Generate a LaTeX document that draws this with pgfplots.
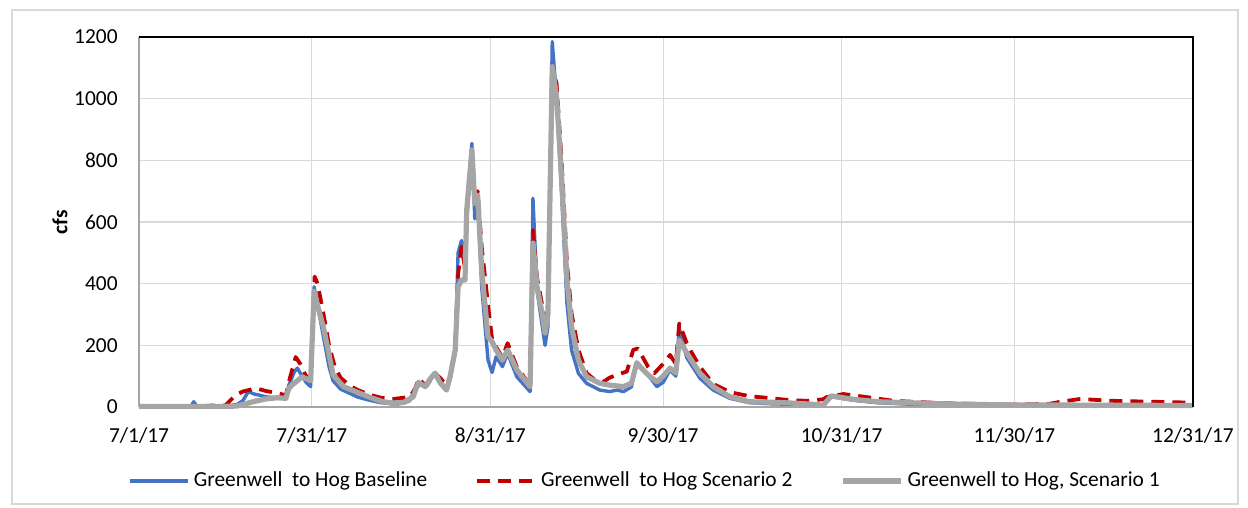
\documentclass[border=0pt]{standalone}
\usepackage{fontspec}
\setmainfont{Carlito}
\usepackage{pgfplots}
\pgfplotsset{compat=1.18}
\definecolor{cblue}{HTML}{4472C4}
\definecolor{cred}{HTML}{C00000}
\definecolor{cgray}{HTML}{A5A5A5}
\definecolor{gridgray}{HTML}{D9D9D9}
\definecolor{axgray}{HTML}{A6A6A6}
\definecolor{framegray}{HTML}{D9D9D9}
\begin{document}
\fontsize{10.7bp}{12.5bp}\selectfont
\begin{tikzpicture}
\path[use as bounding box] (0,0) rectangle (624bp,254bp);
\draw[framegray, line width=0.6bp] (6bp,2bp) rectangle (619bp,249bp);
\begin{axis}[
  scale only axis, width=527bp, height=185bp,
  at={(69.5bp,50.5bp)}, anchor=south west,
  xmin=0, xmax=183, ymin=0, ymax=1200,
  clip=false,
  xtick={0,30,61,91,122,152,183},
  xticklabels={7/1/17,7/31/17,8/31/17,9/30/17,10/31/17,11/30/17,12/31/17},
  ytick={0,200,400,600,800,1000,1200},
  yticklabels={0,200,400,600,800,1000,1200},
  xticklabel style={anchor=north, inner sep=0pt, yshift=-10bp},
  yticklabel style={anchor=east, inner sep=0pt, xshift=-10.5bp},
  major tick length=0pt,
  tick style={draw=none},
  grid=major,
  major grid style={draw=gridgray, line width=0.6bp},
  axis line style={draw=none},
  ylabel={\textbf{cfs}},
  ylabel style={at={(axis description cs:-0.075,0.5)}, anchor=center, rotate=0},
  legend columns=3,
  legend style={at={(axis description cs:-0.0104,-0.2)}, anchor=west, draw=none, fill=none, inner sep=0pt,
    /tikz/every even column/.append style={column sep=22bp}},
  legend image code/.code={\draw[#1,line cap=butt] (0bp,0bp) -- (29bp,0bp);},
  after end axis/.code={
    \draw[axgray, line width=0.8bp] (rel axis cs:0,0) -- (rel axis cs:0,1);
    \draw[axgray, line width=1.3bp] (rel axis cs:0,0) -- (rel axis cs:1,0);
    \draw[black, line width=1bp] (rel axis cs:0,1) -- (rel axis cs:1,1) -- (rel axis cs:1,0);
  },
]
\addplot[cblue, line width=1.7bp, line join=round] coordinates {
(0,2) (9,2) (9.5,17) (10,3) (12,2) (15,3) (17,8) (18,20) (19,50) (20,42) (21,38) (22,33) (24,30) (25.5,28) (26,70) (27,115) (27.5,126) (28,110) (29,80) (29.8,66) (30.4,390) (31,330) (32,230) (33,130) (33.7,85) (35,58) (36.5,45) (38,32) (40,22) (42,14) (44,10) (45,10) (46,13) (47,20) (48,65) (49,72) (50,68) (51,100) (51.5,105) (52.5,80) (53.4,55) (54,90) (54.9,180) (55.4,500) (56,540) (56.6,470) (56.9,640) (57.8,855) (58.3,610) (58.8,680) (59.5,390) (60.6,152) (61.3,112) (62,163) (63.1,131) (64,174) (65.6,98) (67.9,50) (68.4,677) (69.1,380) (70.5,200) (71,260) (71.75,1185) (72.5,1000) (73.4,682) (74.3,337) (75.1,185) (76.3,109) (77.7,77) (80,55) (81.7,50) (83,55) (84.1,50) (85.5,65) (86.4,146) (88.4,104) (89.9,66) (91,80) (92.2,120) (93.2,100) (93.8,255) (95.1,160) (97.4,93) (99.7,55) (102.6,28) (106,14) (110,10) (113,9) (116,8) (118.8,5) (120.2,33) (124,22) (128,14) (135,8) (145,5) (155,4) (165,4) (175,4) (183,4)
};
\addlegendentry{Greenwell\ \ to Hog Baseline}
\addplot[cred, line width=1.9bp, dash pattern=on 6.5bp off 4bp, line join=round] coordinates {
(0,2) (10,2) (13,5) (15,5) (16.8,39) (18,50) (20.3,61) (22,52) (24,45) (25.5,38) (26,80) (27.2,162) (28,140) (29,100) (29.8,95) (30.5,423) (31,400) (32,305) (33,200) (34,130) (35,95) (36.5,70) (38,55) (40,40) (42,30) (44,25) (45,28) (46,30) (47,33) (48,60) (48.5,93) (49.7,70) (50.5,85) (51.4,110) (52.5,90) (53.4,70) (54,95) (54.9,180) (55.4,430) (56,520) (56.6,450) (56.9,620) (57.8,830) (58.3,650) (58.8,700) (59.5,520) (60.6,330) (61.3,220) (62,195) (63.1,160) (64,207) (65.6,130) (67.9,70) (68.4,574) (69.1,420) (70.5,282) (71,320) (71.75,1100) (72.5,1050) (73.4,790) (74.3,467) (75.1,304) (76.3,185) (77.7,110) (79,90) (80.5,80) (81.7,95) (83,105) (84.7,115) (85.8,185) (86.6,190) (87.2,170) (88.4,130) (89.5,110) (90.5,130) (91.5,150) (92.2,169) (93.2,140) (93.8,271) (95.1,207) (96,175) (97.4,130) (99.7,75) (102.6,48) (106,35) (110,28) (113,22) (116,20) (118.8,25) (119.4,32) (122.3,42) (126,33) (131,20) (140,12) (151.8,8) (158,10) (160,17) (163.4,26) (169,20) (183,14)
};
\addlegendentry{Greenwell\ \ to Hog Scenario 2}
\addplot[cgray, line width=2.6bp, line join=round] coordinates {
(0,2) (10,2) (15,2) (17,3) (18,8) (20,18) (22,26) (24,30) (25.5,28) (26,60) (26.6,72) (27.5,85) (28.3,98) (29,92) (29.8,85) (30.4,375) (31,330) (32,260) (33,170) (33.7,104) (35.5,66) (38.4,44) (40,32) (42.4,17) (44,13) (46,15) (47.6,33) (48.5,80) (49.7,66) (50.5,90) (51.4,110) (52.3,78) (53.4,55) (54,98) (54.9,185) (55.4,390) (56,412) (56.6,412) (56.9,639) (57.8,834) (58.3,661) (58.8,686) (59.5,444) (60.6,228) (61.3,212) (62,185) (63.1,152) (64,185) (65.6,120) (67.9,66) (68.4,532) (69.1,390) (70,304) (70.5,240) (71,300) (71.75,1104) (72.5,1006) (73.4,736) (74.3,412) (75.1,260) (76.3,152) (77.7,98) (80,77) (81.7,71) (84.1,66) (85.5,77) (86.4,142) (88.4,104) (89.9,82) (91,100) (92.2,126) (93.2,110) (93.8,217) (95.1,175) (97.4,109) (99.7,66) (102.6,33) (106,17) (110.7,15) (113,13) (116,10) (118.8,6) (120.2,36) (124,25) (128.4,17) (140,10) (150,7) (165,6) (183,5)
};
\addlegendentry{Greenwell to Hog, Scenario 1}
\end{axis}
\end{tikzpicture}
\end{document}
